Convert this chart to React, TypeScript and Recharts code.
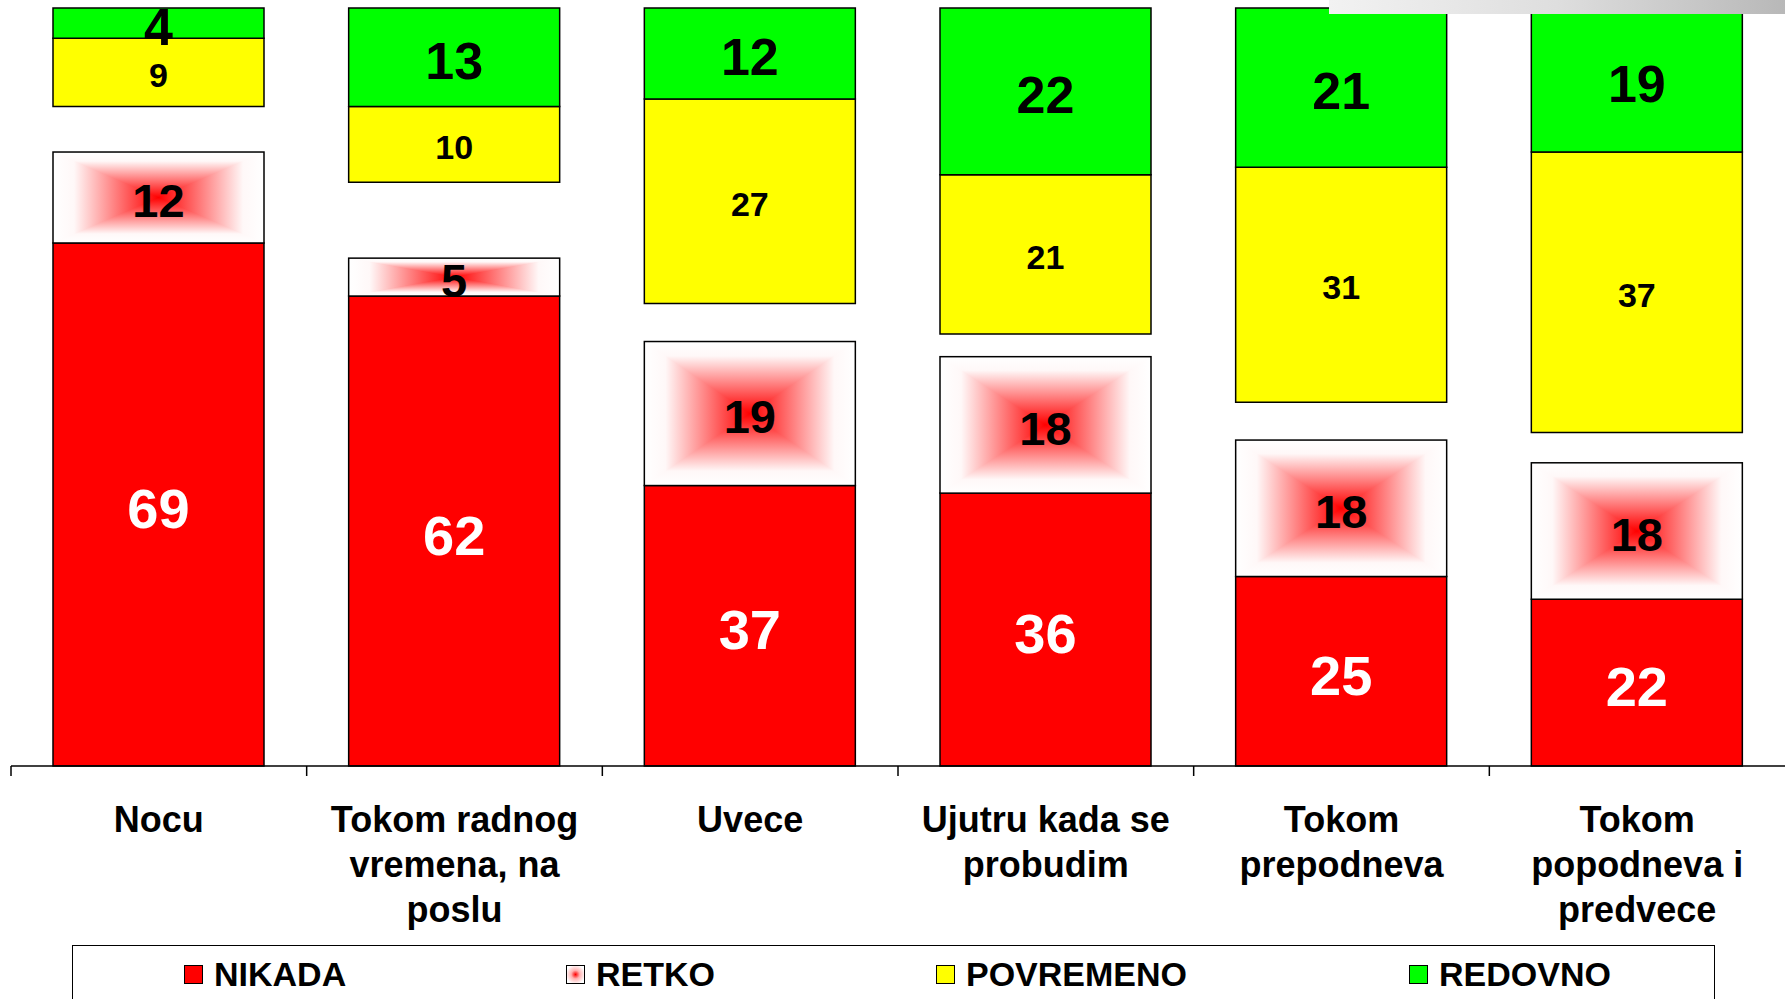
import React from "react";
import { BarChart, Bar, XAxis, YAxis, LabelList } from "recharts";

const categories = [
  "Nocu",
  "Tokom radnog\nvremena, na\nposlu",
  "Uvece",
  "Ujutru kada se\nprobudim",
  "Tokom\nprepodneva",
  "Tokom\npopodneva i\npredvece",
];
const nikada = [69, 62, 37, 36, 25, 22];
const retko = [12, 5, 19, 18, 18, 18];
const bezOdgovora = [6, 10, 5, 3, 5, 4];
const povremeno = [9, 10, 27, 21, 31, 37];
const redovno = [4, 13, 12, 22, 21, 19];
const seriesNames = ["NIKADA", "RETKO", "POVREMENO", "REDOVNO"];

const data = categories.map((cat, i) => ({
  cat,
  nikada: nikada[i],
  retko: retko[i],
  bezOdgovora: bezOdgovora[i],
  povremeno: povremeno[i],
  redovno: redovno[i],
}));

const FONT = '"Liberation Sans", Arial, Helvetica, sans-serif';
const RED = "#FF0000";
const YELLOW = "#FFFF00";
const GREEN = "#00FF00";

const RetkoShape = (props: any) => {
  const { x, y, width, height } = props;
  if (!width || !height) return null;
  const cx = x + width / 2;
  const cy = y + height / 2;
  return (
    <g>
      <rect x={x} y={y} width={width} height={height} fill="url(#retkoV)" />
      <polygon points={`${x},${y} ${cx},${cy} ${x},${y + height}`} fill="url(#retkoL)" />
      <polygon
        points={`${x + width},${y} ${cx},${cy} ${x + width},${y + height}`}
        fill="url(#retkoR)"
      />
      <rect x={x} y={y} width={width} height={height} fill="none" stroke="#000" strokeWidth={1.5} />
    </g>
  );
};

const makeLabel = (fill: string, size: number) => (p: any) => {
  const { x, y, width, height, value } = p;
  return (
    <text
      x={x + width / 2}
      y={y + height / 2}
      dy="0.42em"
      textAnchor="middle"
      fill={fill}
      fontSize={size}
      fontWeight="bold"
      fontFamily={FONT}
    >
      {value}
    </text>
  );
};

const CatTick = (props: any) => {
  const { x, y, payload } = props;
  const half = payload && payload.offset ? payload.offset : 1774 / 12;
  const axisY = y - 10;
  const lines = String(payload.value).split("\n");
  return (
    <g>
      <line x1={x - half} y1={axisY} x2={x - half} y2={axisY + 10} stroke="#000" strokeWidth={1.5} />
      <text
        x={x}
        y={axisY + 66}
        textAnchor="middle"
        fontSize={36}
        fontWeight="bold"
        fontFamily={FONT}
        fill="#000"
      >
        {lines.map((l, i) => (
          <tspan key={i} x={x} dy={i === 0 ? 0 : 45}>
            {l}
          </tspan>
        ))}
      </text>
    </g>
  );
};

const legendColors = [RED, "retko", YELLOW, GREEN];
const legendLeft = [111, 493, 863, 1336];

export default function App() {
  return (
    <div
      style={{
        position: "absolute",
        left: 0,
        top: 0,
        width: 1785,
        height: 999,
        background: "#fff",
        overflow: "hidden",
      }}
    >
      <BarChart
        width={1785}
        height={999}
        data={data}
        margin={{ top: 8, right: 0, left: 11, bottom: 0 }}
        barSize={211}
      >
        <defs>
          <linearGradient id="retkoV" x1="0" y1="0" x2="0" y2="1">
            <stop offset="0" stopColor="#ffffff" />
            <stop offset="0.1" stopColor="#fff8f8" />
            <stop offset="0.5" stopColor="#ff0000" />
            <stop offset="0.9" stopColor="#fff8f8" />
            <stop offset="1" stopColor="#ffffff" />
          </linearGradient>
          <linearGradient id="retkoL" x1="0" y1="0" x2="1" y2="0">
            <stop offset="0" stopColor="#ffffff" />
            <stop offset="0.2" stopColor="#fff8f8" />
            <stop offset="1" stopColor="#ff0000" />
          </linearGradient>
          <linearGradient id="retkoR" x1="0" y1="0" x2="1" y2="0">
            <stop offset="0" stopColor="#ff0000" />
            <stop offset="0.8" stopColor="#fff8f8" />
            <stop offset="1" stopColor="#ffffff" />
          </linearGradient>
        </defs>
        <XAxis
          dataKey="cat"
          height={233}
          interval={0}
          tickLine={false}
          tickSize={10}
          tickMargin={0}
          axisLine={{ stroke: "#000", strokeWidth: 1.5 }}
          tick={<CatTick />}
        />
        <YAxis hide domain={[0, 100]} />
        <Bar dataKey="nikada" stackId="a" fill={RED} stroke="#000" strokeWidth={1.5} isAnimationActive={false}>
          <LabelList dataKey="nikada" content={makeLabel("#fff", 56)} />
        </Bar>
        <Bar dataKey="retko" stackId="a" shape={<RetkoShape />} isAnimationActive={false}>
          <LabelList dataKey="retko" content={makeLabel("#000", 47)} />
        </Bar>
        <Bar dataKey="bezOdgovora" stackId="a" fill="none" stroke="none" isAnimationActive={false} />
        <Bar dataKey="povremeno" stackId="a" fill={YELLOW} stroke="#000" strokeWidth={1.5} isAnimationActive={false}>
          <LabelList dataKey="povremeno" content={makeLabel("#000", 34)} />
        </Bar>
        <Bar dataKey="redovno" stackId="a" fill={GREEN} stroke="#000" strokeWidth={1.5} isAnimationActive={false}>
          <LabelList dataKey="redovno" content={makeLabel("#000", 52)} />
        </Bar>
      </BarChart>

      <div
        style={{
          position: "absolute",
          left: 1329,
          top: 0,
          width: 456,
          height: 14,
          background: "linear-gradient(to right, #f2f2f2, #dedede 50%, #b8b8b8)",
        }}
      />

      <div
        style={{
          position: "absolute",
          left: 72,
          top: 945,
          width: 1643,
          height: 80,
          border: "1.5px solid #000",
          boxSizing: "border-box",
        }}
      >
        {seriesNames.map((name, i) => (
          <div
            key={name}
            style={{
              position: "absolute",
              left: legendLeft[i],
              top: 9,
              display: "flex",
              alignItems: "center",
              fontFamily: FONT,
              fontWeight: "bold",
              fontSize: 34,
              color: "#000",
              whiteSpace: "nowrap",
            }}
          >
            <div
              style={{
                width: 19,
                height: 19,
                border: "1.5px solid #000",
                boxSizing: "border-box",
                marginRight: 11,
                background:
                  legendColors[i] === "retko"
                    ? "radial-gradient(circle, #ff0000 0%, #ffb0b0 35%, #ffffff 80%)"
                    : legendColors[i],
              }}
            />
            <span>{name}</span>
          </div>
        ))}
      </div>
    </div>
  );
}
